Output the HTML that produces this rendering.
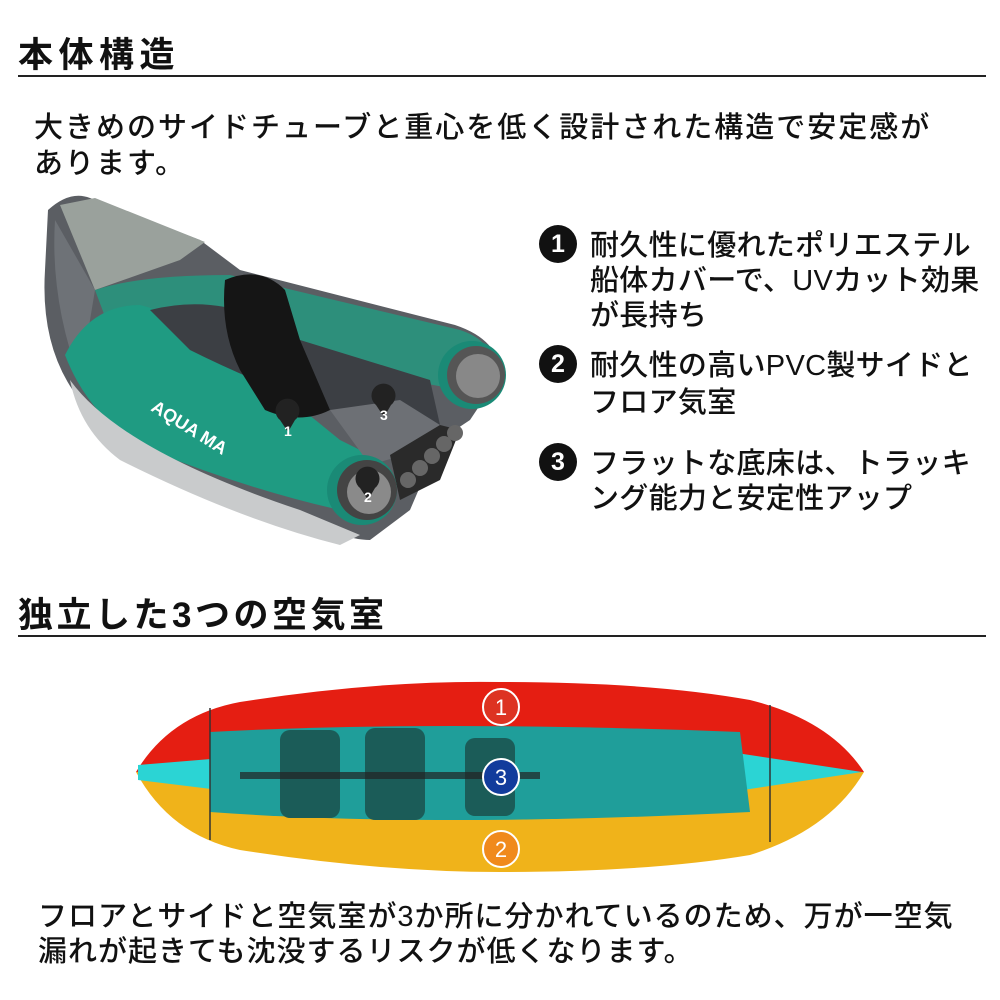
<!DOCTYPE html>
<html><head><meta charset="utf-8"><style>
body{margin:0;width:1000px;height:1000px;background:#fff;position:relative;overflow:hidden;font-family:"Liberation Sans","Noto Sans CJK JP",sans-serif;color:#111}
.t{position:absolute;white-space:nowrap}
.h{font-weight:bold;font-size:35px;letter-spacing:5.5px}
.line{position:absolute;left:18px;width:968px;height:2px;background:#222}
.b{font-size:29px;letter-spacing:2px;font-weight:500}
.b2{font-size:29px;letter-spacing:1px;font-weight:500}
.r{font-size:29px;left:590px;font-weight:500;letter-spacing:0.3px}
.n{position:absolute;left:539px;width:38px;height:38px;border-radius:50%;background:#111;color:#fff;font-weight:bold;font-size:25px;text-align:center;line-height:38px}
</style></head><body>
<div class="t h" style="left:18px;top:27px">本体構造</div>
<div class="line" style="top:75px"></div>
<div class="t b" style="left:34px;top:104px">大きめのサイドチューブと重心を低く設計された構造で安定感が</div>
<div class="t b" style="left:34px;top:140px">あります。</div>

<svg style="position:absolute;left:0;top:180px" width="520" height="380" viewBox="0 0 520 380">
<path d="M48,30 Q70,10 90,18 L200,60 L240,90 L455,145 Q500,160 500,195 L470,240 L440,260 L410,330 L370,360 Q340,360 290,330 Q150,280 80,220 Q40,170 45,90 Z" fill="#5b5e63"/>
<path d="M60,25 L95,18 L205,62 L180,80 L95,110 Z" fill="#9aa19c"/>
<path d="M55,40 Q50,120 80,200 L95,110 Z" fill="#6e7277"/>
<path d="M95,110 Q140,95 230,95 L460,150 Q490,160 490,180 L460,210 L300,180 L200,140 Q140,130 110,150 Z" fill="#2d8f7b"/>
<path d="M65,175 Q90,125 140,125 Q200,140 260,195 L340,260 L370,275 L340,330 Q250,310 150,270 Q90,240 65,175 Z" fill="#1f9b82"/>
<path d="M70,200 Q120,270 300,330 L360,355 L340,365 Q240,340 120,280 Q80,250 70,200Z" fill="#c9cbcc"/>
<path d="M150,130 Q230,110 300,160 L430,200 L440,245 L400,270 L370,275 L330,230 Q250,200 190,170 Z" fill="#3c3f44"/>
<path d="M225,100 Q260,85 285,110 L300,160 L330,230 Q300,245 265,230 L240,190 Q220,150 225,100Z" fill="#151515"/>
<path d="M330,230 L400,220 L440,245 L420,270 L370,285 Z" fill="#6d7075"/>
<path d="M390,275 L440,245 L460,250 L440,300 L400,320 Z" fill="#2a2a2a"/>
<circle cx="472" cy="195" r="34" fill="#1a8a76"/><circle cx="476" cy="195" r="29" fill="#555"/><circle cx="478" cy="196" r="22" fill="#888"/>
<circle cx="362" cy="310" r="35" fill="#1a8a76"/><circle cx="367" cy="310" r="30" fill="#444"/><circle cx="369" cy="312" r="22" fill="#8a8a8a"/>
<g fill="#666"><circle cx="408" cy="300" r="8"/><circle cx="420" cy="288" r="8"/><circle cx="432" cy="276" r="8"/><circle cx="444" cy="264" r="8"/><circle cx="455" cy="253" r="8"/></g>
<text x="150" y="230" fill="#fff" font-size="18" font-weight="bold" transform="rotate(32 150 230)" font-family="Liberation Sans">AQUA MA</text>
<g fill="#222"><path d="M280,240 a12,12 0 1,1 15,0 l-7,12z"/><path d="M376,225 a12,12 0 1,1 15,0 l-7,12z"/><path d="M360,308 a12,12 0 1,1 15,0 l-7,12z"/></g>
<g fill="#fff" font-size="14" font-weight="bold" font-family="Liberation Sans"><text x="284" y="256">1</text><text x="380" y="240">3</text><text x="364" y="322">2</text></g>
</svg>

<div class="n" style="top:225px">1</div>
<div class="t r" style="top:222px">耐久性に優れたポリエステル</div>
<div class="t r" style="top:257px">船体カバーで、UVカット効果</div>
<div class="t r" style="top:292px">が長持ち</div>
<div class="n" style="top:345px">2</div>
<div class="t r" style="top:342px">耐久性の高いPVC製サイドと</div>
<div class="t r" style="top:379px">フロア気室</div>
<div class="n" style="top:443px">3</div>
<div class="t r" style="top:440px">フラットな底床は、トラッキ</div>
<div class="t r" style="top:475px">ング能力と安定性アップ</div>

<div class="t h" style="left:18px;top:587px;letter-spacing:3.5px">独立した3つの空気室</div>
<div class="line" style="top:635px"></div>

<svg style="position:absolute;left:130px;top:660px" width="740" height="220" viewBox="0 0 740 220">
<path d="M6,112 Q40,55 110,42 Q250,20 370,22 Q520,22 620,40 Q700,60 734,112 Z" fill="#e51e12"/>
<path d="M6,112 Q40,175 110,190 Q250,212 370,212 Q520,212 620,195 Q700,170 734,112 Z" fill="#f0b31a"/>
<path d="M8,105 L130,95 L500,80 L600,92 L732,112 L600,132 L500,150 L130,135 L8,120Z" fill="#2bd4d4"/>
<path d="M80,72 Q300,60 610,72 L620,152 Q300,168 80,152 Z" fill="#1f9e9a"/>
<g fill="#1b5c58"><rect x="150" y="70" width="60" height="88" rx="10"/><rect x="235" y="68" width="60" height="92" rx="10"/><rect x="335" y="78" width="50" height="78" rx="10"/></g>
<rect x="110" y="112" width="300" height="7" fill="#222" opacity=".7"/>
<path d="M80,48 L80,180 M640,45 L640,182" stroke="#333" stroke-width="1.5"/>
<circle cx="371" cy="47" r="18" fill="#d32" stroke="#fff" stroke-width="2"/>
<circle cx="371" cy="117" r="18" fill="#123c9c" stroke="#fff" stroke-width="2"/>
<circle cx="371" cy="189" r="18" fill="#f08a1c" stroke="#fff" stroke-width="2"/>
<g fill="#fff" font-size="22" font-family="Liberation Sans" text-anchor="middle"><text x="371" y="55">1</text><text x="371" y="125">3</text><text x="371" y="197">2</text></g>
</svg>

<div class="t b2" style="left:38px;top:893px">フロアとサイドと空気室が3か所に分かれているのため、万が一空気</div>
<div class="t b2" style="left:38px;top:928px">漏れが起きても沈没するリスクが低くなります。</div>
</body></html>
